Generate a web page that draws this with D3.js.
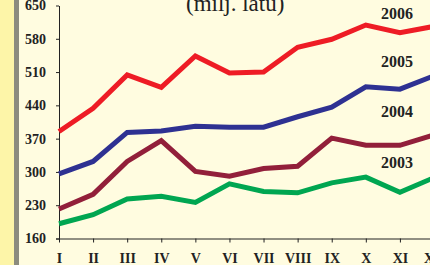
<!DOCTYPE html>
<html><head><meta charset="utf-8">
<script src="https://cdn.jsdelivr.net/npm/d3@7"></script>
<style>html,body{margin:0;padding:0;overflow:hidden;background:#FFFCE0;}</style>
</head><body>
<script>
const months = ["I","II","III","IV","V","VI","VII","VIII","IX","X","XI","XII"];
const years = ["2006","2005","2004","2003"];
const s2006 = [385,434,504,478,544,508,510,562,579,609,593,606];
const s2005 = [296,322,383,386,396,394,394,416,436,479,474,502];
const s2004 = [222,253,322,366,301,291,307,312,371,356,356,378];
const s2003 = [191,210,243,249,236,275,259,256,277,289,257,288];
const yTicks = [160,230,300,370,440,510,580,650];
const colors = ["#EE1C25","#2E3192","#921F3A","#00A651"];
const title = "(milj. latu)";

const W=430,H=265;
const svg=d3.select("body").append("svg").attr("width",W).attr("height",H);
svg.append("rect").attr("width",W).attr("height",H).attr("fill","#FFFCE0");
svg.append("rect").attr("x",0).attr("y",0).attr("width",14).attr("height",H).attr("fill","#FDF5A8");
svg.append("rect").attr("x",14).attr("y",0).attr("width",5).attr("height",H).attr("fill","#8C8C7E");

const x=d3.scalePoint().domain(months).range([59,434]);
const y=d3.scaleLinear().domain([160,650]).range([238.5,5.5]);

const font="'Liberation Serif','Times New Roman',serif";

const yAx=svg.append("g").attr("transform","translate(59,0)")
  .call(d3.axisLeft(y).tickValues(yTicks).tickSize(3).tickPadding(10).tickSizeOuter(0));
yAx.selectAll("text").attr("font-family",font).attr("font-weight","bold").attr("font-size","14px").attr("fill","#222");
yAx.selectAll("line,path").attr("stroke","#222");

const xAx=svg.append("g").attr("transform","translate(0,238.5)")
  .call(d3.axisBottom(x).tickSize(4).tickPadding(11).tickSizeOuter(0));
xAx.select("path").attr("d","M56,0.5H440");
xAx.selectAll("text").attr("font-family",font).attr("font-weight","bold").attr("font-size","14px").attr("fill","#222");
xAx.selectAll("line,path").attr("stroke","#222");

const series=[s2006,s2005,s2004,s2003];
const line=d3.line().x((d,i)=>x(months[i])).y(d=>y(d));
series.forEach((s,k)=>{
  svg.append("path").attr("d",line(s)).attr("fill","none").attr("stroke",colors[k])
    .attr("stroke-width",5).attr("stroke-linejoin","miter");
});

const labY=[19,66.5,116.5,168];
years.forEach((yr,k)=>{
  svg.append("text").attr("x",381).attr("y",labY[k]).text(yr)
    .attr("font-family",font).attr("font-weight","bold").attr("font-size","16px").attr("fill","#222");
});
svg.append("text").attr("x",186).attr("y",11).text(title)
  .attr("font-family",font).attr("font-size","23px").attr("fill","#222");
</script>
</body></html>
